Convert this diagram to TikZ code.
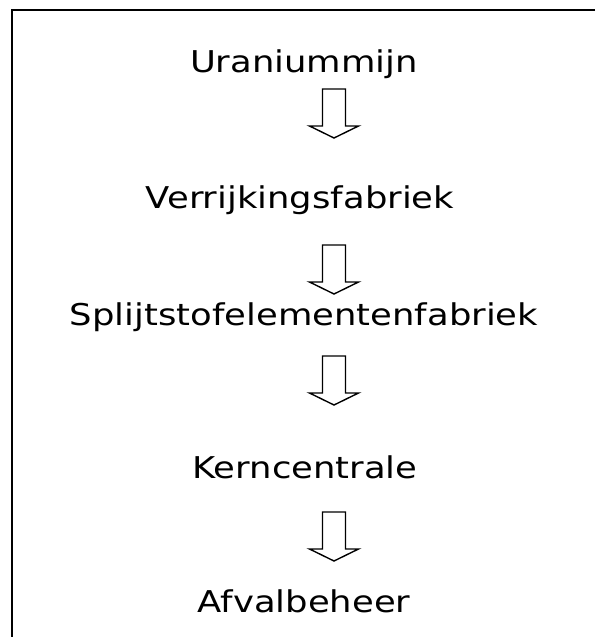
\documentclass[tikz,border=0pt]{standalone}
\usepackage{fontspec}
\setmainfont{DejaVu Sans}
\tikzset{
  lbl/.style={anchor=base, inner sep=0pt, font=\fontsize{30}{36}\selectfont},
  frameline/.style={line width=1.8pt},
  blockarrow/.style={line width=1.4pt, line join=miter},
  downarrow/.pic={\draw[blockarrow] (-11.5,0) -- (11.5,0) -- (11.5,37) -- (24.5,37) -- (0,49) -- (-24.5,37) -- (-11.5,37) -- cycle;}
}
\begin{document}
\begin{tikzpicture}[x=1pt,y=-1pt]
  \useasboundingbox (0,0) rectangle (595,637);
  % frame (top and left edges only)
  \coordinate (fr) at (595,10);
  \coordinate (fc) at (12,10);
  \coordinate (fb) at (12,637);
  \draw[frameline] (fr) -- (fc) -- (fb);
  % labels
  \node[lbl] (n1) at (304,72)  {\scalebox{1.18}[1]{Uraniummijn}};
  \node[lbl] (n2) at (300,208) {\scalebox{1.18}[1]{Verrijkingsfabriek}};
  \node[lbl] (n3) at (304,325) {\scalebox{1.18}[1]{Splijtstofelementenfabriek}};
  \node[lbl] (n4) at (305,478) {\scalebox{1.18}[1]{Kerncentrale}};
  \node[lbl] (n5) at (304,612) {\scalebox{1.18}[1]{Afvalbeheer}};
  % block arrows
  \coordinate (a1) at (334,89);
  \coordinate (a2) at (334,245);
  \coordinate (a3) at (334,356);
  \coordinate (a4) at (334,512);
  \pic at (a1) {downarrow};
  \pic at (a2) {downarrow};
  \pic at (a3) {downarrow};
  \pic at (a4) {downarrow};
\end{tikzpicture}
\end{document}
